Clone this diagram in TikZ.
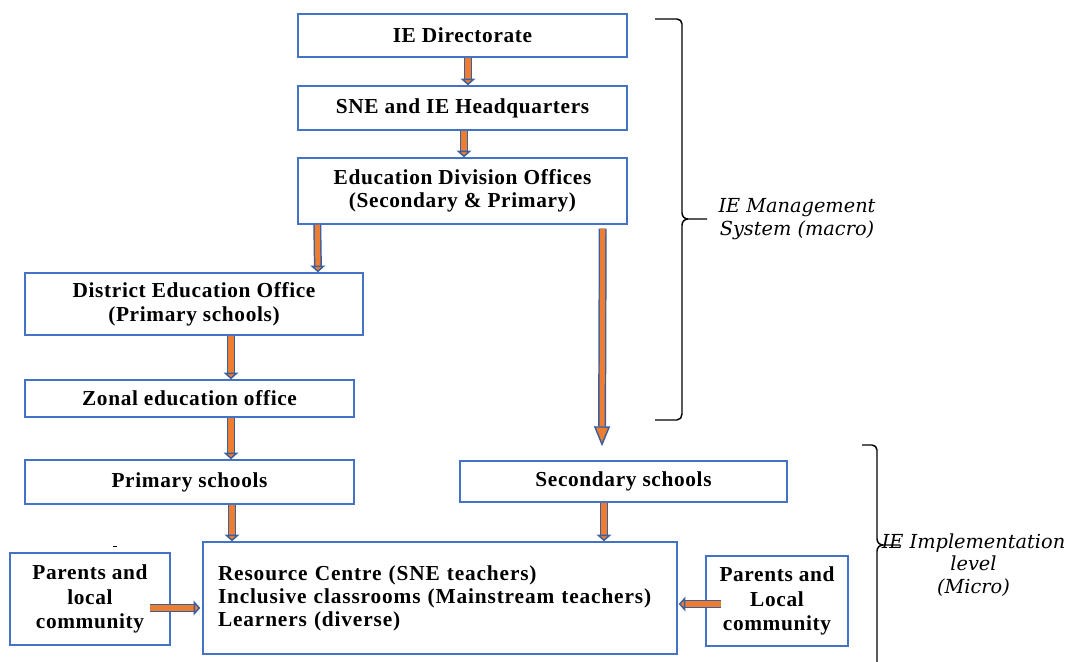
\documentclass[tikz,border=0pt]{standalone}
\usepackage{fontspec}
\setmainfont{Liberation Serif}[LetterSpace=3]
\newfontfamily\labelfont{DejaVu Serif}
\usetikzlibrary{arrows.meta,calc}
\definecolor{boxblue}{HTML}{4472C4}
\definecolor{arrowblue}{HTML}{3A5F9E}
\definecolor{arroworange}{HTML}{ED7D31}
\tikzset{
  box/.style={draw=boxblue, line width=1.1pt, fill=white, align=center, inner sep=0pt,
    font=\bfseries\fontsize{16}{18}\selectfont},
  barrow/.style={draw=arrowblue, line width=1.1pt, double=arroworange, double distance=3.8pt,
    -{Triangle[length=5pt, width=11pt, fill=arroworange, color=arrowblue, line width=1.1pt]}},
  longarrow/.style={barrow,
    -{Triangle[length=15pt, width=12pt, fill=arroworange, color=arrowblue, line width=1.1pt]}},
  bracestyle/.style={draw=black, line width=1.1pt},
  sidelabel/.style={align=center, inner sep=0pt, font=\labelfont\itshape\fontsize{14.5}{16.8}\selectfont}
}
\begin{document}
\begin{tikzpicture}[x=0.75pt,y=-0.75pt]
\useasboundingbox (0,0) rectangle (1068,661);
% boxes
\node[box, minimum width=246.75pt, minimum height=32.25pt] (dir) at (462.5,35.5) {IE Directorate};
\node[box, minimum width=246.75pt, minimum height=33pt] (hq) at (462.5,108) {SNE and IE Headquarters};
\node[box, minimum width=246.75pt, minimum height=49.5pt, font=\bfseries\fontsize{16}{17.25}\selectfont] (edo) at (462.5,191) {Education Division Offices\\(Secondary \& Primary)};
\node[box, minimum width=253.5pt, minimum height=46.5pt] (deo) at (194,304) {District Education Office\\(Primary schools)};
\node[box, minimum width=246.75pt, minimum height=27.75pt] (zeo) at (189.5,398.5) {Zonal education office};
\node[box, minimum width=246.75pt, minimum height=33pt] (ps) at (189.5,482) {Primary schools};
\node[box, minimum width=245.25pt, minimum height=30.75pt] (ss) at (623.5,481.5) {Secondary schools};
\node[box, minimum width=355.5pt, minimum height=84pt, text width=333pt, inner xsep=11.25pt, align=left,
  font=\bfseries\fontsize{16}{17.25}\selectfont\addfontfeatures{LetterSpace=4}] (rc) at (440,598)
  {Resource Centre (SNE teachers)\\Inclusive classrooms (Mainstream teachers)\\Learners (diverse)};
\node[box, minimum width=120pt, minimum height=69pt, font=\bfseries\fontsize{16}{18.4}\selectfont] (pl) at (90,599) {Parents and\\local\\community};
\node[box, minimum width=106.5pt, minimum height=67.5pt, font=\bfseries\fontsize{16}{18.4}\selectfont] (pr) at (777,601) {Parents and\\Local\\community};
% arrows
\draw[barrow] ($(dir.south)+(5.5,0)$) -- ($(hq.north)+(5.5,0)$);
\draw[barrow] ($(hq.south)+(1.5,0)$) -- ($(edo.north)+(1.5,0)$);
\draw[barrow] ($(edo.south west)+(20,0)$) -- ($(deo.north)+(124,0)$);
\draw[longarrow] ($(edo.south east)+(-25,4)$) -- ($(ss.north)+(-21.5,-14)$);
\draw[barrow] ($(deo.south)+(37,0)$) -- ($(zeo.north)+(41.5,0)$);
\draw[barrow] ($(zeo.south)+(41.5,0)$) -- ($(ps.north)+(41.5,0)$);
\draw[barrow] ($(ps.south)+(42.5,0)$) -- ($(rc.north)+(-208,0)$);
\draw[barrow] ($(ss.south)+(-19.5,0)$) -- ($(rc.north)+(164,0)$);
\draw[barrow] ($(pl.east)+(-21,9)$) -- ($(rc.west)+(-2,10)$);
\draw[barrow] ($(pr.west)+(16,3)$) -- ($(rc.east)+(1,6)$);
% stray mark
\draw[line width=0.6pt] (113,546) -- (117,546);
% braces
\coordinate (b1tip) at (707,219);
\draw[bracestyle] (655,19) -- (677,19) to[out=0,in=90] (682,24) -- (682,213) to[out=-90,in=180] (688,219) -- (b1tip);
\draw[bracestyle] (688,219) to[out=180,in=90] (682,225) -- (682,414) to[out=-90,in=0] (677,420) -- (655,420);
\coordinate (b2tip) at (900,545);
\draw[bracestyle] (862,445) -- (872,445) to[out=0,in=90] (877,450) -- (877,539) to[out=-90,in=180] (883,545) -- (b2tip);
\draw[bracestyle] (883,545) to[out=180,in=90] (877,551) -- (877,662);
\node[sidelabel] (mlabel) at (797,219) {IE Management\\System (macro)};
\node[sidelabel] (ilabel) at (973.5,565) {IE Implementation\\level\\(Micro)};
\end{tikzpicture}
\end{document}
